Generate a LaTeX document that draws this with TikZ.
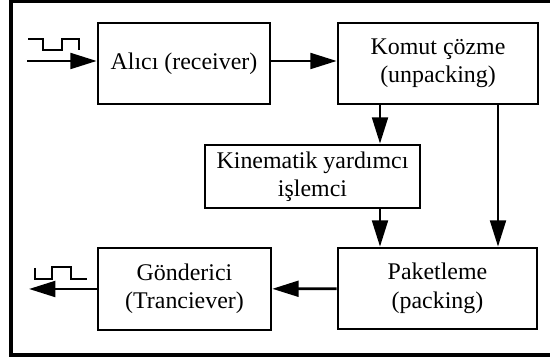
\documentclass[tikz,border=0pt]{standalone}
\usepackage{fontspec}
\setmainfont{Liberation Serif}
\usetikzlibrary{arrows.meta}

\tikzset{
  blok/.style={draw,line width=1.5pt,align=center,inner sep=2pt},
  ok/.style={-{Triangle[length=15pt,width=9pt]},line width=1.5pt},
  dalga/.style={line width=1.4pt}
}

\begin{document}
\begin{tikzpicture}[x=1cm,y=1cm,font=\fontsize{13.6}{16.2}\selectfont]
    \useasboundingbox (0,0) rectangle (11,7.2);
    \draw[line width=1.9pt] (0.22,0.10) rectangle (11.1,7.175);
    % blocks
    \node[blok,minimum width=3.44cm,minimum height=1.62cm] (alici) at (3.68,5.93) {Alıcı (receiver)};
    \node[blok,minimum width=4cm,minimum height=1.62cm] (komut) at (8.76,5.93) {Komut çözme\\(unpacking)};
    \node[blok,minimum width=4.3cm,minimum height=1.26cm] (kin) at (6.25,3.67) {Kinematik yardımcı\\işlemci};
    \node[blok,minimum width=3.98cm,minimum height=1.62cm] (paket) at (8.75,1.43) {Paketleme\\(packing)};
    \node[blok,minimum width=3.46cm,minimum height=1.64cm] (gond) at (3.69,1.42) {Gönderici\\(Tranciever)};
    % free ends and vertical lanes
    \coordinate (giris) at (0.54,5.98);
    \coordinate (cikis) at (0.58,1.42);
    \coordinate (h1) at (7.6,0);
    \coordinate (h2) at (9.96,0);
    % connections
    \draw[ok] (giris)--(alici.west |- giris);
    \draw[ok] (alici.east |- giris)--(komut.west |- giris);
    \draw[ok] (komut.south -| h1)--(kin.north -| h1);
    \draw[ok] (kin.south -| h1)--(paket.north -| h1);
    \draw[ok] (komut.south -| h2)--(paket.north -| h2);
    \draw[ok] (paket)--(gond);
    \draw[ok] (gond)--(cikis);
    % signal shapes
    \draw[dalga] (0.56,6.42)--(0.86,6.42)--(0.86,6.2)--(1.24,6.2)--(1.24,6.42)--(1.58,6.42)--(1.58,6.2);
    \draw[dalga] (0.7,1.84)--(0.7,1.62)--(1.04,1.62)--(1.04,1.86)--(1.42,1.86)--(1.42,1.62)--(1.74,1.62);
\end{tikzpicture}
\end{document}
